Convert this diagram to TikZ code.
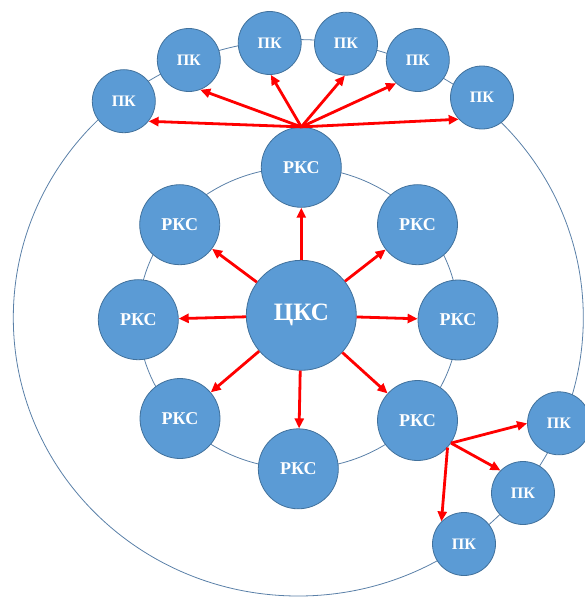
\documentclass[tikz,border=0pt]{standalone}
\usepackage{fontspec}
\setmainfont{Liberation Serif}
\usetikzlibrary{arrows.meta}
\definecolor{nodefill}{HTML}{5B9BD5}
\definecolor{nodeline}{HTML}{41719C}
\definecolor{ringline}{HTML}{5A80A8}
\begin{document}
\begin{tikzpicture}[x=1pt,y=-1pt,
  base/.style={circle, fill=nodefill, draw=nodeline, line width=0.8pt, text=white, inner sep=0pt},
  ckcnode/.style={base, minimum size=110pt, font=\bfseries\fontsize{25}{25}\selectfont},
  rkcnode/.style={base, minimum size=80pt, font=\bfseries\fontsize{18}{18}\selectfont},
  pknode/.style={base, minimum size=63pt, font=\bfseries\fontsize{16}{16}\selectfont},
  ring/.style={draw=ringline, line width=0.8pt},
  link/.style={draw=red, line width=2.8pt, -{Triangle[length=10pt,width=9pt]}},
]
\useasboundingbox (0,0) rectangle (585,597);
% rings
\draw[ring] (298.3,317.8) ellipse [x radius=285pt, y radius=278.2pt];
\draw[ring] (298.3,318) ellipse [x radius=160pt, y radius=150.7pt];
% centre
\node[ckcnode] (c) at (301.3,315.3) {ЦКС};
% regional
\node[rkcnode] (r1) at (301.3,167.3) {РКС};
\node[rkcnode] (r2) at (417.5,224.7) {РКС};
\node[rkcnode] (r3) at (458,320) {РКС};
\node[rkcnode] (r4) at (417.5,420.5) {РКС};
\node[rkcnode] (r5) at (298.3,468.8) {РКС};
\node[rkcnode] (r6) at (180,418.5) {РКС};
\node[rkcnode] (r7) at (138.3,319.7) {РКС};
\node[rkcnode] (r8) at (179.7,224.7) {РКС};
% terminals
\node[pknode] (p1) at (123.8,101.2) {ПК};
\node[pknode] (p2) at (188.8,60) {ПК};
\node[pknode] (p3) at (269.7,43) {ПК};
\node[pknode] (p4) at (346,43.7) {ПК};
\node[pknode] (p5) at (417.8,60) {ПК};
\node[pknode] (p6) at (482,97.5) {ПК};
\node[pknode] (q1) at (559,423.3) {ПК};
\node[pknode] (q2) at (523,493) {ПК};
\node[pknode] (q3) at (464,544) {ПК};
% arrows from centre
\foreach \r in {r1,r2,r3,r4,r5,r6,r7,r8}
  \draw[link] (c) -- (\r);
% arrows to top terminals
\draw[link] (r1.north) -- (p1.-39);
\draw[link] (r1.north) -- (p2.-69);
\draw[link] (r1.north) -- (p3.-88);
\draw[link] (r1.north) -- (p4.-92);
\draw[link] (r1.north) -- (p5.-133);
\draw[link] (r1.north) -- (p6.-137);
% arrows to lower-right terminals
\coordinate (s1) at (r4.-34);
\coordinate (s2) at (r4.-42);
\draw[link] (s1) -- (q1.180);
\draw[link] (s1) -- (q2.135);
\draw[link] (s2) -- (q3.135);
\end{tikzpicture}
\end{document}
